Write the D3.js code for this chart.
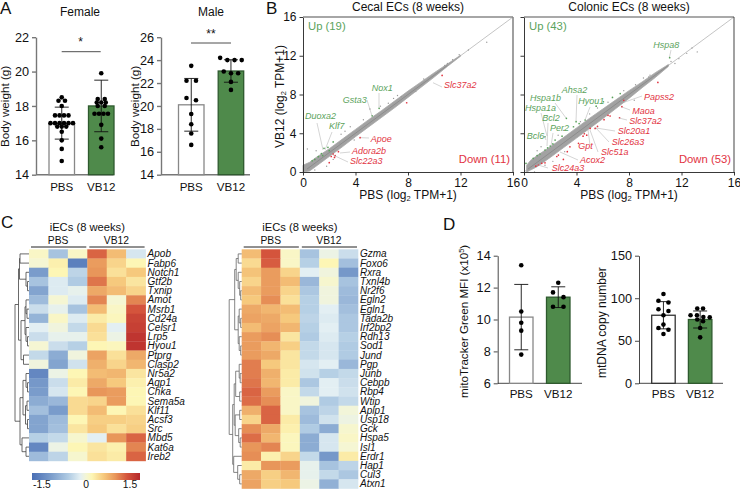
<!DOCTYPE html>
<html><head><meta charset="utf-8">
<script src="https://cdn.jsdelivr.net/npm/d3@7"></script>
<style>html,body{margin:0;padding:0;background:#fff}svg{display:block;font-family:"Liberation Sans",Arial,sans-serif}</style>
</head><body><svg id="c" width="740" height="489"></svg>
<script>
// ---------- data ----------
const groups = ["PBS","VB12"];
const femalePBS = [18.5,18.3,18.3,18.0,17.45,17.45,17.45,17.45,17.0,17.0,17.0,17.0,17.0,17.0,16.8,16.8,16.8,16.5,16.0,15.5,14.8];
const femaleVB12 = [19.9,18.4,18.4,18.2,18.2,18.2,18.0,18.0,17.55,17.55,17.55,17.55,16.9,16.1,15.6];
const malePBS = [23.5,22.2,22.2,20.7,20.5,19.3,18.4,17.6,16.6];
const maleVB12 = [24.2,24.0,24.0,24.0,23.0,22.85,22.85,22.1,21.4];
const mitoPBS = [13.4,10.5,9.8,9.3,7.8];
const mitoVB12 = [12.3,11.7,11.4,10.8,10.8];
const mtPBS = [105,97,95,87,85,80,69,65,63,58];
const mtVB12 = [88,88,80,80,78,77.5,75,73,65,54];
const femaleMean = [17,18], femaleSD = [0.93,1.5];
const maleMean = [20.1,23.05], maleSD = [2.3,0.98];
const mitoMean = [10.15,11.4], mitoSD = [2.05,0.65];
const mtMean = [80,75], mtSD = [16,10];

const bandX = [0,0.5,1,2,3,4,5,6,7,8,9,10,11,12];
const cecalLo = [0,0.1,0.6,1.6,2.6,3.65,4.65,5.65,6.65,7.7,8.75,9.8,10.9,11.95];
const cecalHi = [0.7,1.0,1.5,2.4,3.4,4.4,5.4,6.35,7.35,8.35,9.3,10.25,11.15,12.05];
const colonBandX = [0.2,0.5,1,2,3,4,5,6,7,8,9,10,11];
const colonLo = [0,0.2,0.55,1.5,2.5,3.5,4.5,5.5,6.55,7.6,8.7,9.75,10.9];
const colonHi = [0.7,1.2,1.7,2.6,3.55,4.55,5.55,6.5,7.45,8.4,9.3,10.25,11.1];
const cecalGray = [[0.33,2.37],[3.6,4.67],[5.1,6.5],[5.9,6.8],[6.9,7.6],[7.5,7.77],[14.0,13.4],[12.6,12.6],[11.9,12.1],[11.4,11.6],[11.0,11.2],[10.8,11.0],[2.9,3.9],[3.2,4.2],[1.0,2.2],[2.8,3.0],[6.5,7.1],[8.6,8.3],[9.2,9.6],[3.9,3.3],[1.8,0.6],[0.9,0.2],[4.6,5.4],[7.2,7.9],[2.3,1.3]];
const cecalUp = [[5.27,5.8],[5.8,6.57],[1.6,2.45],[1.17,1.58],[1.4,1.9],[1.9,2.55],[2.3,3.1],[0.9,1.3],[2.0,2.2],[0.7,1.15],[1.5,1.7]];
const cecalDown = [[4.35,3.54],[10.6,9.97],[2.3,1.86],[2.4,1.5],[2.7,2.1],[2.15,1.6],[7.9,7.15],[2.0,0.96],[2.45,1.7]];
const colonGray = [[12.8,12.8],[13.2,12.4],[12.4,12.25],[11.8,11.7],[11.5,11.2],[11.2,11.4],[9.6,10],[9.5,9.8],[9.1,9.7],[8.5,9.0],[7.6,8.4],[3.0,4.3],[2.6,3.8],[4.3,5.2],[5.0,6.0],[1.0,2.2],[1.3,2.6],[5.6,6.6],[6.4,7.2],[1.6,0.7],[2.2,1.1],[3.1,2.1],[0.8,0],[8.4,7.4]];
const colonUp = [[3.23,5.54],[3.97,5.2],[5.5,6.8],[6.74,7.7],[7.33,8.1],[11.1,11.8],[0.15,0.9],[0.7,1.4],[1.22,1.86],[1.6,2.27],[2.0,2.68],[1.6,3.64],[2.2,2.9],[2.37,3.3],[3.77,4.67],[4.66,5.37],[4.2,5.0],[6.05,7.25],[1.0,1.7],[1.8,2.5],[2.9,3.7]];
const colonDown = [[7.46,6.74],[7.28,5.6],[10.2,9.25],[6.56,5.78],[6.4,5.85],[5.42,4.5],[5.04,4.5],[4.6,3.95],[4.78,3.8],[4.5,3.7],[3.5,2.6],[2.62,1.75],[2.5,1.6],[1.1,0.72],[1.35,0.9],[1.6,0.95],[0.9,0.6],[7.6,7.4],[4.15,2.96],[3.3,2.1],[3.0,1.3],[6.1,5.4],[5.6,4.7]];
const xyTicks = [0,4,8,12,16];

const cecalGenes = ["Nox1","Gsta3","Duoxa2","Klf7"];
const cecalRed = ["Slc37a2","Apoe","Adora2b","Slc22a3"];
const colonGreen = ["Hspa8","Ahsa2","Hspa1b","Hyou1","Hspa1a","Bcl2","Per2","Bcl6"];
const colonRed = ["Papss2","Maoa","Slc37a2","Slc20a1","Slc26a3","Slc51a","Gpt","Acox2","Slc24a3"];

const rowsC = ["Apob","Fabp6","Notch1","Gtf2b","Txnip","Amot","Msrb1","Cd24a","Celsr1","Lrp5","Hyou1","Ptprg","Clasp2","Nr5a2","Aqp1","Chka","Sema5a","Klf11","Acsf3","Src","Mbd5","Kat6a","Ireb2"];
const heatC = [
[.1,-.7,.1,1.3,.7,-.3],[.02,.25,-1.6,.95,.5,.2],[-1.2,.2,-.5,1.0,.4,.6],[-.7,-.25,-.6,1.2,.6,.35],[-1.1,-.25,-.15,.85,.7,.5],
[-.8,.02,-.25,1.1,.02,1.1],[-.4,-.15,-.7,.7,.1,1.4],[-.9,.1,-.25,.3,.15,1.55],[-.2,-.05,-.45,.45,-.2,1.6],[-.4,-.15,-.15,.4,-.1,1.7],
[.02,-.4,-.55,.2,.15,1.7],[-.45,-1.0,-.05,.9,.4,.85],[-.05,-1.1,-.35,.8,.5,.75],[-1.5,-.1,.2,.7,.75,.35],[-1.25,-.4,.3,.85,.6,.25],
[-1.2,-.3,.2,1.0,.95,.2],[-1.0,-.85,.45,.5,.95,.2],[-.75,-1.2,.45,.7,.2,.4],[-1.1,-.8,.2,.55,.55,.5],[-1.1,-.75,.35,.6,.4,.55],
[-.55,-.45,.05,-.2,1.0,1.3],[-1.5,-.1,.2,.35,.25,1.1],[-.8,-.5,.05,.4,.3,1.3]];
const rowsD = ["Gzma","Foxo6","Rxra","Txnl4b","Nr2f6","Egln2","Egln1","Tada2b","Irf2bp2","Rdh13","Sod1","Jund","Pgp","Junb","Cebpb","Rbp4","Wtip","Aplp1","Usp18","Gck","Hspa5","Isl1","Erdr1","Hap1","Cul3","Atxn1"];
const heatD = [
[.7,1.4,.1,-.7,-.1,-.4],[.45,1.35,.1,-.55,.2,-.75],[.65,.95,.5,-.2,-.05,-1.25],[.5,.95,.7,-.85,.05,-.7],[.7,.95,.5,-.65,-.05,-.8],
[.6,1.05,.4,-.55,-.05,-.85],[.85,.75,.7,-.55,-.2,-.75],[.9,.85,.6,-.5,-.25,-.65],[.7,.9,.75,-.55,-.2,-.65],[.95,1.05,.35,-.6,-.25,-.55],
[.95,.75,.55,-.45,-.3,-.6],[.95,.85,.35,-.45,-.3,-.6],[1.15,.6,.35,-.3,-.2,-.85],[1.15,.8,.3,-.35,-.55,-.45],[1.2,.75,.3,-.65,-.2,-.4],
[1.3,.95,.1,-.45,-.2,-.35],[1.25,1.05,.1,-.05,-.6,-.45],[.8,1.3,.1,-.7,-.5,-.02],[.5,1.3,.3,-.8,-.35,-.08],[1.05,.85,.25,-.6,-1.0,.05],
[1.25,.75,.15,-1.0,-.3,.1],[1.0,1.1,.15,-1.0,-.3,.02],[1.05,.25,.5,-.45,-1.25,.3],[.3,1.0,.95,-.15,-.7,-.5],[.85,.55,.75,-.15,-.45,-.65],[.9,.55,.6,-.1,-.95,-.3]];
const columns = ["p1","p2","p3","v1","v2","v3"];
const colorStops = [-1.84,-1.2,-.6,-.2,0,.2,.6,1,1.4,1.84];
const colorValues = ["#4a6fb5","#7a9ccb","#b0cbe3","#e3eff3","#f4f6d6","#fdf6b5","#f6c97d","#e8965a","#d4543c","#b5272a"];
const legendTicks = [-1.5,0,1.5];
// dendrograms: [height, child, child]; a number is a row index
const treeC = [14,[10.5,[9.5,[9,0,1],[3,2,[1.5,3,4]]],[8,[4,[3,5,[2,6,7]],[3,8,[1.5,9,10]]],[5.5,11,12]]],
               [9,[6,[3,13,[1.5,14,15]],[3.5,[2,16,17],[1.5,18,19]]],[7,20,[3,21,22]]]];
const treeD = [12.5,[7,[5.5,[3.5,0,1],[3.5,2,[2,3,[1,4,5]]]],[3.5,[2.5,6,[1,7,8]],[2.5,9,[1,10,11]]]],
               [9,[7.5,[6,[2.5,12,[1.5,13,14]],[2,15,16]],[6.5,[2,17,18],[3,19,[1.5,20,21]]]],[8,22,[4,23,[2,24,25]]]]];

// ---------- layout / style ----------
const svg = d3.select("#c");
const GREEN="#4f8a4b", GREEN_T="#5ba35c", RED="#e2333f";
const txt=(x,y,s,o={})=>{const t=svg.append("text").attr("x",x).attr("y",y).attr("font-size",o.size||11.5).attr("fill",o.fill||"#111").attr("text-anchor",o.anchor||"start").text(s);
  if(o.italic)t.attr("font-style","italic"); if(o.rot!=null)t.attr("transform",`rotate(${o.rot} ${x} ${y})`); return t;};
const seg=(x1,y1,x2,y2,c,w)=>svg.append("line").attr("x1",x1).attr("y1",y1).attr("x2",x2).attr("y2",y2).attr("stroke",c).attr("stroke-width",w);

function barPanel(p){
  const y=d3.scaleLinear().domain(p.domain).range([p.y0,p.y1]);
  const x=d3.scaleBand().domain(groups).range([p.barL,p.barL+p.step*2-(p.step-p.barW)]).paddingInner(1-p.barW/p.step).paddingOuter(0);
  const g=svg.append("g");
  const ax=g.append("g").attr("transform",`translate(${p.axisX},0)`).call(d3.axisLeft(y).tickValues(p.ticks).tickSize(4).tickSizeOuter(0));
  ax.selectAll("path,line").attr("stroke",p.axisC).attr("stroke-width",p.axisW);
  ax.selectAll("text").attr("font-size",12.7).attr("font-family","inherit").attr("fill","#111");
  g.append("line").attr("x1",p.axisX).attr("x2",p.xEnd).attr("y1",p.y0).attr("y2",p.y0).attr("stroke",p.axisC).attr("stroke-width",p.axisW);
  groups.forEach((k,i)=>{
    const cx=x(k)+x.bandwidth()/2, m=p.mean[i], s=p.sd[i];
    g.append("rect").attr("x",x(k)).attr("width",x.bandwidth()).attr("y",y(m)).attr("height",p.y0-y(m))
     .attr("fill",i?GREEN:"#fff").attr("stroke",i?"#2e5a2e":p.pbsStroke).attr("stroke-width",1.3);
    g.append("line").attr("x1",cx).attr("x2",cx).attr("y1",y(m-s)).attr("y2",y(m+s)).attr("stroke","#111").attr("stroke-width",.9);
    [m-s,m+s].forEach(v=>g.append("line").attr("x1",cx-7).attr("x2",cx+7).attr("y1",y(v)).attr("y2",y(v)).attr("stroke","#111").attr("stroke-width",.9));
    // rows of dots, centred on the bar
    const vals=[...p.pts[i]].sort((a,b)=>b-a); const rows=[];
    vals.forEach(v=>{const r=rows[rows.length-1]; if(r&&r[0]-v<=p.bin)r.push(v); else rows.push([v]);});
    rows.forEach(r=>r.forEach((v,j)=>g.append("circle").attr("cx",cx+(j-(r.length-1)/2)*(r.length===2?p.sp2[i]:p.sp)).attr("cy",y(v)).attr("r",2.3).attr("fill","#000")));
    txt(cx,p.labY,k,{anchor:"middle",size:11.6});
  });
}
barPanel({domain:[14,22],y0:174.7,y1:37.2,axisX:36,xEnd:113.5,barL:49,step:39.5,barW:25.5,ticks:[14,16,18,20,22],mean:femaleMean,sd:femaleSD,pts:[femalePBS,femaleVB12],bin:.01,sp:4.5,sp2:[6.5,7],axisC:"#777",axisW:1.4,pbsStroke:"#888",labY:191});
barPanel({domain:[14,26],y0:174.7,y1:37.2,axisX:161,xEnd:250,barL:178.5,step:39.7,barW:25.5,ticks:[14,16,18,20,22,24,26],mean:maleMean,sd:maleSD,pts:[malePBS,maleVB12],bin:.21,sp:7.2,sp2:[9.5,7],axisC:"#777",axisW:1.4,pbsStroke:"#888",labY:191});
barPanel({domain:[6,14],y0:383.3,y1:255.7,axisX:497.7,xEnd:582,barL:509.5,step:37,barW:23.5,ticks:[6,8,10,12,14],mean:mitoMean,sd:mitoSD,pts:[mitoPBS,mitoVB12],bin:.35,sp:5,sp2:[10,10.5],axisC:"#333",axisW:.9,pbsStroke:"#888",labY:398});
barPanel({domain:[0,150],y0:383.3,y1:255.7,axisX:639,xEnd:723,barL:651.7,step:36.7,barW:23.5,ticks:[0,50,100,150],mean:mtMean,sd:mtSD,pts:[mtPBS,mtVB12],bin:3,sp:6.4,sp2:[10,5.8],axisC:"#333",axisW:.9,pbsStroke:"#333",labY:398});

txt(80,15.5,"Female",{anchor:"middle",size:12}); txt(211,15.5,"Male",{anchor:"middle",size:12});
txt(9,147,"Body weight (g)",{rot:-90,size:11.7}); txt(138.5,147,"Body weight (g)",{rot:-90,size:11.7});
seg(61.7,51.7,100.7,51.7,"#222",.8); seg(191,43,231,43,"#222",.8);
txt(80.5,46,"*",{anchor:"middle",size:12}); txt(211,38,"**",{anchor:"middle",size:12});
txt(0,14,"A",{size:17}); txt(266,13.5,"B",{size:17}); txt(1,228,"C",{size:17}); txt(443,230,"D",{size:17});

// D titles
{const t=txt(468,398,"mitoTracker Green MFI (x10",{rot:-90,size:11.6}); t.append("tspan").attr("font-size",7.5).attr("dy",-4).text("5"); t.append("tspan").attr("dy",4).text(")");}
txt(606,378,"mtDNA copy number",{rot:-90,size:12});

// ---------- B ----------
function scatter(p){
  const x=d3.scaleLinear().domain([0,16]).range([p.x0,p.x1]), y=d3.scaleLinear().domain([0,16]).range([172,17]);
  const g=svg.append("g");
  g.append("line").attr("x1",x(0)).attr("y1",y(0)).attr("x2",x(16)).attr("y2",y(16)).attr("stroke","#aaa").attr("stroke-width",.7);
  g.append("path").attr("d",d3.area().x(i=>x(p.bx[i])).y0(i=>y(p.lo[i])).y1(i=>y(p.hi[i])).curve(d3.curveLinear)(d3.range(p.bx.length))).attr("fill","#a2a2a2").attr("stroke","#a8a8a8").attr("stroke-width",.8);
  g.append("line").attr("x1",x(.3)).attr("y1",y(.3)).attr("x2",x(11)).attr("y2",y(11)).attr("stroke","#8a8a8a").attr("stroke-width",.9);
  g.selectAll(null).data(p.gray).join("circle").attr("cx",d=>x(d[0])).attr("cy",d=>y(d[1])).attr("r",.7).attr("fill","#999");
  g.selectAll(null).data(p.up).join("circle").attr("cx",d=>x(d[0])).attr("cy",d=>y(d[1])).attr("r",.85).attr("fill",GREEN_T);
  g.selectAll(null).data(p.down).join("circle").attr("cx",d=>x(d[0])).attr("cy",d=>y(d[1])).attr("r",.85).attr("fill",RED);
  // frame
  seg(p.x0,17,p.x1,17,p.frame,p.frameW); seg(p.x1,17,p.x1,172,p.frame,p.frameW);
  const ax=g.append("g").attr("transform",`translate(${p.x0},0)`).call(d3.axisLeft(y).tickValues(xyTicks).tickSize(3.5).tickSizeOuter(0));
  const bx=g.append("g").attr("transform","translate(0,172)").call(d3.axisBottom(x).tickValues(xyTicks).tickSize(3.5).tickSizeOuter(0));
  [ax,bx].forEach(a=>{a.selectAll("path,line").attr("stroke","#222").attr("stroke-width",.9);a.selectAll("text").attr("font-size",12).attr("font-family","inherit").attr("fill","#111");});
  if(p.noY) ax.selectAll("text").remove();
  const mid=(p.x0+p.x1)/2;
  txt(mid,11,p.title,{anchor:"middle",size:12});
  const t=txt(mid,198.5,"PBS (log",{anchor:"middle",size:12}); t.append("tspan").attr("font-size",7.5).attr("dy",2).text("2"); t.append("tspan").attr("dy",-2).text(" TPM+1)");
  txt(p.x0+5,30,p.upLabel,{fill:GREEN_T,size:11.3});
  txt(p.x1-3,163,p.downLabel,{fill:RED,size:11.3,anchor:"end"});
}
scatter({x0:303,x1:513,bx:bandX,lo:cecalLo,hi:cecalHi,gray:cecalGray,up:cecalUp,down:cecalDown,frame:"#888",frameW:1.6,title:"Cecal ECs (8 weeks)",upLabel:"Up (19)",downLabel:"Down (11)"});
scatter({x0:524,x1:734,bx:colonBandX,lo:colonLo,hi:colonHi,gray:colonGray,up:colonUp,down:colonDown,frame:"#555",frameW:1.1,noY:true,title:"Colonic ECs (8 weeks)",upLabel:"Up (43)",downLabel:"Down (53)"});
{const t=txt(284,148,"VB12 (log",{rot:-90,size:12}); t.append("tspan").attr("font-size",7.5).attr("dy",2).text("2"); t.append("tspan").attr("dy",-2).text(" TPM+1)");}

const labelPos = {
 Nox1:[371.7,91,379,93,379,108],Gsta3:[342.7,103,367,100,372,116],Duoxa2:[305,119,317,123,323,150],Klf7:[329,129,332,132,325,150],
 Slc37a2:[444,88,442,87,433,82.7],Apoe:[370.7,141.7,369,138,361,137.7],Adora2b:[352,154,350,152,340,153],Slc22a3:[350,164,348,162,333,155]};
cecalGenes.forEach(n=>label(n,labelPos[n],GREEN_T)); cecalRed.forEach(n=>label(n,labelPos[n],RED));
const labelPos2 = {
 Hspa8:[653.3,47.7,671,50,669.5,57],Ahsa2:[561.7,92.7,577,95,576,121],Hspa1b:[530,101,555,103,566,118],Hyou1:[578.3,104,590,107,585,120],
 Hspa1a:[525,111,541,113,547,136],Bcl2:[542.3,120.7,548,123,547,146],Per2:[550,130.7,553,133,551,146],Bcl6:[526.7,139.3,544,136,546,140],
 Papss2:[644,100.3,642,96,622,103],Maoa:[632.3,114,630,110,622,107],Slc37a2:[629.3,124,627,120,619,118],Slc20a1:[617.7,134.3,615,131,596,128],
 Slc26a3:[611.7,145.3,609,142,595,127],Slc51a:[601,155,598,152,590,130],Gpt:[578.3,149.3,590,145,588,130],Acox2:[580,163.3,578,160,560,152],Slc24a3:[551.7,171,548,168,538,165]};
colonGreen.forEach(n=>label(n,labelPos2[n],GREEN_T)); colonRed.forEach(n=>label(n,labelPos2[n],RED));
function label(n,a,c){ seg(a[2],a[3],a[4],a[5],"#aaa",.5); txt(a[0],a[1],n,{italic:true,fill:c,size:9}); }

// ---------- C ----------
const color=d3.scaleLinear().domain(colorStops).range(colorValues).clamp(true);
function heat(p){
  const x=d3.scaleBand().domain(columns).range([p.x0,p.x1]);
  const y=d3.scaleBand().domain(p.rows).range([249.3,249.3+9.2*p.rows.length]);
  const g=svg.append("g");
  p.data.forEach((r,i)=>r.forEach((v,j)=>g.append("rect").attr("x",x(columns[j])).attr("y",y(p.rows[i])).attr("width",x.bandwidth()+.3).attr("height",y.bandwidth()+.3).attr("fill",color(v))));
  p.rows.forEach(n=>txt(p.x1+2,y(n)+y.bandwidth()/2+3.4,n,{italic:true,size:10}));
  const mid=(p.x0+p.x1)/2;
  txt(mid,231,"iECs (8 weeks)",{anchor:"middle",size:11.2});
  const w=x.bandwidth()*3;
  seg(p.x0+2,247,p.x0+w-1,247,"#222",1); seg(p.x0+w+2,247,p.x1-1,247,"#222",1);
  txt(p.x0+w/2,244,"PBS",{anchor:"middle",size:10.3}); txt(p.x0+w*1.5,244,"VB12",{anchor:"middle",size:10.3});
  // dendrogram
  const h=d3.scaleLinear().domain([0,1]).range([p.x0,p.x0-1]);
  (function draw(n){
    if(typeof n==="number")return {y:y(p.rows[n])+y.bandwidth()/2,h:0};
    const a=draw(n[1]),b=draw(n[2]);
    g.append("path").attr("d",`M${h(a.h)},${a.y}H${h(n[0])}V${b.y}H${h(b.h)}`).attr("fill","none").attr("stroke",p.treeC).attr("stroke-width",.8);
    return {y:(a.y+b.y)/2,h:n[0]};
  })(p.tree);
}
heat({x0:29,x1:145.6,rows:rowsC,data:heatC,tree:treeC,treeC:"#444"});
heat({x0:241.7,x1:358,rows:rowsD,data:heatD,tree:treeD,treeC:"#666"});
// colour bar
{const lx=d3.scaleLinear().domain([-1.84,1.84]).range([32,140]);
 const id="lg"; const d=svg.append("defs").append("linearGradient").attr("id",id);
 colorStops.forEach((s,i)=>d.append("stop").attr("offset",(lx(s)-32)/108).attr("stop-color",colorValues[i]));
 svg.append("rect").attr("x",32).attr("y",473).attr("width",108).attr("height",7).attr("fill",`url(#${id})`);
 legendTicks.forEach(v=>txt(lx(v),488,v<0?"-1.5":String(v),{anchor:"middle",size:10.3}));
}
</script></body></html>
